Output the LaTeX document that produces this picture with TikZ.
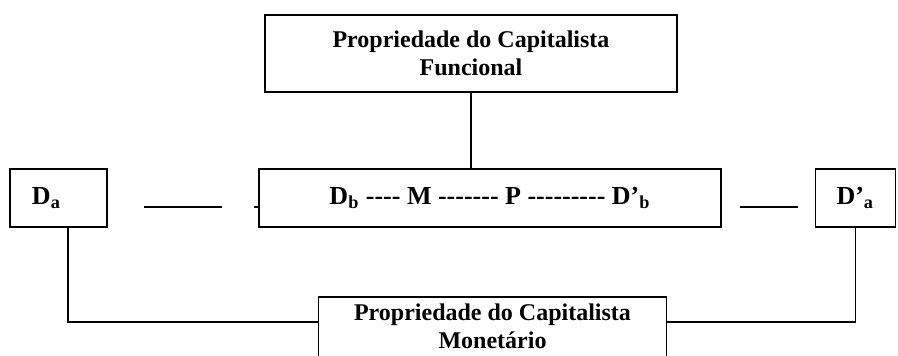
\documentclass[tikz,border=0pt]{standalone}
\usepackage{fontspec}
\setmainfont{Liberation Serif}
\usetikzlibrary{positioning}
\newcommand{\hyph}[1]{\foreach \k in {1,...,#1}{-\kern0pt}}

\begin{document}
\begin{tikzpicture}[x=0.5pt, y=-0.5pt,
    box/.style={draw, line width=0.9pt, inner sep=0pt, align=center,
        font=\bfseries\fontsize{12}{14}\selectfont},
    row/.style={box, minimum height=29pt, font=\bfseries\fontsize{13}{15}\selectfont},
    link/.style={line width=0.9pt}]
    \useasboundingbox (0,0) rectangle (898,356);
    \clip (0,0) rectangle (898,356);
    % boxes
    \node[box, minimum width=206pt, minimum height=38.5pt] (func) at (471,53.5)
        {Propriedade do Capitalista\\Funcional};
    \node[row, minimum width=231pt] (circ) at (490,198)
        {D\textsubscript{b} \hyph{4} M \hyph{7} P \hyph{9} D’\textsubscript{b}};
    \node[row, inner xsep=11pt, text width=26.5pt, align=left] (da) at (58.5,198)
        {D\textsubscript{a}};
    \node[row, inner xsep=10.5pt, text width=19pt, align=left] (dpa) at (855.5,198)
        {D’\textsubscript{a}};
    \node[box, minimum width=174pt, inner ysep=3.5pt, text depth=20pt, anchor=north] (mon) at (492.5,296)
        {Propriedade do Capitalista\\Monetário};
    % lines
    \coordinate (l1) at (144,207);
    \coordinate (l2) at (740,207);
    \draw[link] (l1) -- ++(78,0);
    \draw[link] (l2) -- ++(58,0);
    \draw[link] (circ.west |- l1) -- ++(-4,0);
    \draw[link] (func.south) -- (func.south |- circ.north);
    \draw[link] ([xshift=4.75pt]da.south) |- ([yshift=-13pt]mon.north west);
    \draw[link] (dpa.south) |- ([yshift=-13pt]mon.north east);
\end{tikzpicture}
\end{document}
